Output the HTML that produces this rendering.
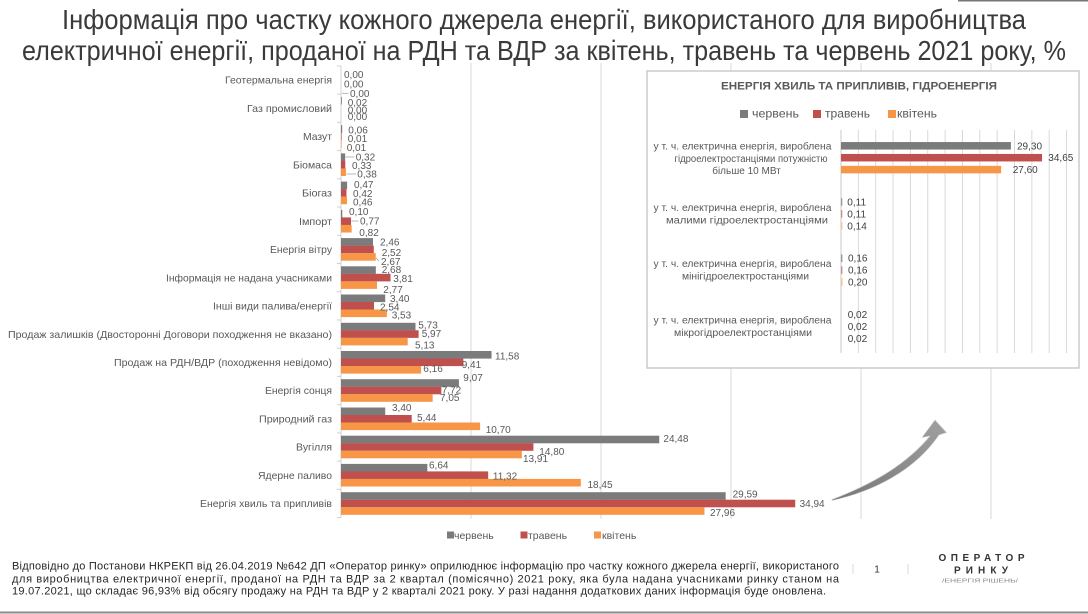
<!DOCTYPE html>
<html><head><meta charset="utf-8">
<style>
html,body{margin:0;padding:0;background:#fff;}
svg{display:block;}
text{font-family:"Liberation Sans","DejaVu Sans",sans-serif;}
.t{font-family:"Liberation Sans Narrow","Liberation Sans",sans-serif;font-size:28px;fill:#3a3a3a;}
.cat{font-size:10.5px;fill:#595959;text-anchor:end;}
.v{font-size:10px;fill:#595959;}
.iv{font-size:10px;fill:#404040;}
.il{font-size:10px;fill:#595959;text-anchor:middle;}
.ft{font-size:11px;fill:#262626;}
</style></head>
<body>
<svg width="1088" height="614" viewBox="0 0 1088 614" xmlns="http://www.w3.org/2000/svg">
<rect width="1088" height="614" fill="#fff"/>
<line x1="958" y1="0.7" x2="1088" y2="0.7" stroke="#777" stroke-width="1.5"/>

<!-- Title -->
<text class="t" x="62" y="29" textLength="964" lengthAdjust="spacingAndGlyphs">Інформація про частку кожного джерела енергії, використаного для виробництва</text>
<text class="t" x="22" y="60" textLength="1044" lengthAdjust="spacingAndGlyphs">електричної енергії, проданої на РДН та ВДР за квітень, травень та червень 2021 року, %</text>

<!-- main gridlines -->
<g stroke="#d9d9d9" stroke-width="1">
<line x1="471" y1="63" x2="471" y2="519"/>
<line x1="601" y1="63" x2="601" y2="519"/>
<line x1="731" y1="63" x2="731" y2="519"/>
<line x1="861" y1="63" x2="861" y2="519"/>
<line x1="991" y1="63" x2="991" y2="519"/>
</g>
<!-- axis -->
<g stroke="#d0d0d0" stroke-width="1">
<line x1="341" y1="66" x2="341" y2="518"/>
<line x1="337" y1="66" x2="341" y2="66"/>
<line x1="337" y1="94.1" x2="341" y2="94.1"/>
<line x1="337" y1="122.4" x2="341" y2="122.4"/>
<line x1="337" y1="150.6" x2="341" y2="150.6"/>
<line x1="337" y1="178.8" x2="341" y2="178.8"/>
<line x1="337" y1="207" x2="341" y2="207"/>
<line x1="337" y1="235.3" x2="341" y2="235.3"/>
<line x1="337" y1="263.5" x2="341" y2="263.5"/>
<line x1="337" y1="291.7" x2="341" y2="291.7"/>
<line x1="337" y1="320" x2="341" y2="320"/>
<line x1="337" y1="348.2" x2="341" y2="348.2"/>
<line x1="337" y1="376.4" x2="341" y2="376.4"/>
<line x1="337" y1="404.7" x2="341" y2="404.7"/>
<line x1="337" y1="432.9" x2="341" y2="432.9"/>
<line x1="337" y1="461.1" x2="341" y2="461.1"/>
<line x1="337" y1="489.4" x2="341" y2="489.4"/>
<line x1="337" y1="517.6" x2="341" y2="517.6"/>
</g>

<!-- categories -->
<text class="cat" x="332" y="83.7" textLength="107" lengthAdjust="spacingAndGlyphs">Геотермальна енергія</text>
<text class="cat" x="332" y="111.9" textLength="85" lengthAdjust="spacingAndGlyphs">Газ промисловий</text>
<text class="cat" x="332" y="140.2" textLength="29" lengthAdjust="spacingAndGlyphs">Мазут</text>
<text class="cat" x="332" y="168.4" textLength="39" lengthAdjust="spacingAndGlyphs">Біомаса</text>
<text class="cat" x="332" y="196.6" textLength="30" lengthAdjust="spacingAndGlyphs">Біогаз</text>
<text class="cat" x="332" y="224.9" textLength="33" lengthAdjust="spacingAndGlyphs">Імпорт</text>
<text class="cat" x="332" y="253.1" textLength="62" lengthAdjust="spacingAndGlyphs">Енергія вітру</text>
<text class="cat" x="332" y="281.3" textLength="166" lengthAdjust="spacingAndGlyphs">Інформація не надана учасниками</text>
<text class="cat" x="332" y="309.5" textLength="119" lengthAdjust="spacingAndGlyphs">Інші види палива/енергії</text>
<text class="cat" x="332" y="337.8" textLength="324" lengthAdjust="spacingAndGlyphs">Продаж залишків (Двосторонні Договори походження не вказано)</text>
<text class="cat" x="332" y="366" textLength="218" lengthAdjust="spacingAndGlyphs">Продаж на РДН/ВДР (походження невідомо)</text>
<text class="cat" x="332" y="394.2" textLength="67" lengthAdjust="spacingAndGlyphs">Енергія сонця</text>
<text class="cat" x="332" y="422.5" textLength="73" lengthAdjust="spacingAndGlyphs">Природний газ</text>
<text class="cat" x="332" y="450.7" textLength="36" lengthAdjust="spacingAndGlyphs">Вугілля</text>
<text class="cat" x="332" y="478.9" textLength="74" lengthAdjust="spacingAndGlyphs">Ядерне паливо</text>
<text class="cat" x="332" y="507.2" textLength="132" lengthAdjust="spacingAndGlyphs">Енергія хвиль та припливів</text>

<!-- bars: grey -->
<g fill="#7b7b7b">
<rect x="341" y="96.9" width="0.8" height="7.6"/>
<rect x="341" y="125.2" width="1.2" height="7.6"/>
<rect x="341" y="153.4" width="4.16" height="7.6"/>
<rect x="341" y="181.6" width="6.11" height="7.6"/>
<rect x="341" y="209.9" width="1.3" height="7.6"/>
<rect x="341" y="238.1" width="31.98" height="7.6"/>
<rect x="341" y="266.3" width="34.84" height="7.6"/>
<rect x="341" y="294.5" width="44.2" height="7.6"/>
<rect x="341" y="322.8" width="74.49" height="7.6"/>
<rect x="341" y="351" width="150.54" height="7.6"/>
<rect x="341" y="379.2" width="117.91" height="7.6"/>
<rect x="341" y="407.5" width="44.2" height="7.6"/>
<rect x="341" y="435.7" width="318.24" height="7.6"/>
<rect x="341" y="463.9" width="86.32" height="7.6"/>
<rect x="341" y="492.2" width="384.67" height="7.6"/>
</g>
<!-- red -->
<g fill="#c0504d">
<rect x="341" y="132.7" width="0.6" height="7.6"/>
<rect x="341" y="160.9" width="4.29" height="7.6"/>
<rect x="341" y="189.1" width="5.46" height="7.6"/>
<rect x="341" y="217.4" width="10.01" height="7.6"/>
<rect x="341" y="245.6" width="32.76" height="7.6"/>
<rect x="341" y="273.8" width="49.53" height="7.6"/>
<rect x="341" y="302" width="33.02" height="7.6"/>
<rect x="341" y="330.3" width="77.61" height="7.6"/>
<rect x="341" y="358.5" width="122.33" height="7.6"/>
<rect x="341" y="386.7" width="100.36" height="7.6"/>
<rect x="341" y="415" width="70.72" height="7.6"/>
<rect x="341" y="443.2" width="192.4" height="7.6"/>
<rect x="341" y="471.4" width="147.16" height="7.6"/>
<rect x="341" y="499.7" width="454.22" height="7.6"/>
</g>
<!-- orange -->
<g fill="#f79646">
<rect x="341" y="140.2" width="0.6" height="7.6"/>
<rect x="341" y="168.4" width="4.94" height="7.6"/>
<rect x="341" y="196.6" width="5.98" height="7.6"/>
<rect x="341" y="224.9" width="10.66" height="7.6"/>
<rect x="341" y="253.1" width="34.71" height="7.6"/>
<rect x="341" y="281.3" width="36.01" height="7.6"/>
<rect x="341" y="309.5" width="45.89" height="7.6"/>
<rect x="341" y="337.8" width="66.69" height="7.6"/>
<rect x="341" y="366" width="80.08" height="7.6"/>
<rect x="341" y="394.2" width="91.65" height="7.6"/>
<rect x="341" y="422.5" width="139.1" height="7.6"/>
<rect x="341" y="450.7" width="180.83" height="7.6"/>
<rect x="341" y="478.9" width="239.85" height="7.6"/>
<rect x="341" y="507.2" width="363.48" height="7.6"/>
</g>

<!-- leader lines -->
<g stroke="#a6a6a6" stroke-width="0.8">
<line x1="342" y1="93.3" x2="348.5" y2="93.3"/>
<line x1="345.5" y1="157" x2="354.5" y2="157"/>
<line x1="346.5" y1="174" x2="356" y2="174"/>
<line x1="351.5" y1="221" x2="358.5" y2="221"/>
<line x1="376" y1="258" x2="379" y2="261"/>
</g>

<!-- value labels -->
<g class="v">
<text x="344" y="78.2">0,00</text>
<text x="344" y="87.5">0,00</text>
<text x="350" y="96.8">0,00</text>
<text x="347.7" y="105.8">0,02</text>
<text x="347.7" y="113.5">0,00</text>
<text x="347.7" y="120.2">0,00</text>
<text x="348.3" y="133.5">0,06</text>
<text x="347.7" y="141.8">0,01</text>
<text x="346.7" y="151.2">0,01</text>
<text x="355.7" y="160.5">0,32</text>
<text x="352" y="169.2">0,33</text>
<text x="357.3" y="177.5">0,38</text>
<text x="354" y="187.8">0,47</text>
<text x="353" y="197.2">0,42</text>
<text x="353" y="205.5">0,46</text>
<text x="349" y="215.2">0,10</text>
<text x="360" y="224.5">0,77</text>
<text x="359.3" y="236.2">0,82</text>
<text x="380" y="245.5">2,46</text>
<text x="381.7" y="255.8">2,52</text>
<text x="381" y="265.2">2,67</text>
<text x="381.7" y="272.8">2,68</text>
<text x="393.3" y="281.8">3,81</text>
<text x="383.3" y="292.8">2,77</text>
<text x="390" y="302.2">3,40</text>
<text x="380" y="310.5">2,54</text>
<text x="391.7" y="318.5">3,53</text>
<text x="418.3" y="328.5">5,73</text>
<text x="421.7" y="336.8">5,97</text>
<text x="415" y="348.5">5,13</text>
<text x="495" y="359.5">11,58</text>
<text x="461.7" y="367.8">9,41</text>
<text x="423.3" y="371.8">6,16</text>
<text x="463.3" y="381.2">9,07</text>
<text x="441.7" y="393.5">7,72</text>
<text x="440" y="401.2">7,05</text>
<text x="392" y="410.8">3,40</text>
<text x="417" y="420.8">5,44</text>
<text x="485.7" y="432.8">10,70</text>
<text x="663.4" y="441.8">24,48</text>
<text x="539.3" y="455.2">14,80</text>
<text x="523" y="461.8">13,91</text>
<text x="429" y="468.5">6,64</text>
<text x="492.9" y="479.5">11,32</text>
<text x="587.5" y="487.8">18,45</text>
<text x="732.6" y="497.5">29,59</text>
<text x="799.6" y="506.8">34,94</text>
<text x="710" y="516.2">27,96</text>
</g>

<!-- main legend -->
<rect x="447" y="531.5" width="7" height="7" fill="#7b7b7b"/>
<text x="454" y="539" style="font-size:10.5px;fill:#595959">червень</text>
<rect x="520.5" y="531.5" width="7" height="7" fill="#c0504d"/>
<text x="528" y="539" style="font-size:10.5px;fill:#595959">травень</text>
<rect x="594" y="531.5" width="7" height="7" fill="#f79646"/>
<text x="602" y="539" style="font-size:10.5px;fill:#595959">квітень</text>

<!-- arrow -->
<defs>
<linearGradient id="ag" x1="0" y1="1" x2="1" y2="0">
<stop offset="0" stop-color="#777"/>
<stop offset="1" stop-color="#a0a0a0"/>
</linearGradient>
</defs>
<path d="M832,500.5 C875,491 915,470 939,435 L946.5,432.5 L935,420 L922,437.5 L930,436 C905,466 870,485 832,499.5 Z" fill="url(#ag)" stroke="#cfcfcf" stroke-width="0.6"/>

<!-- inset -->
<rect x="647" y="71" width="432" height="297" fill="#fff" stroke="#c4c4c4" stroke-width="1.3"/>
<text x="859" y="89.5" textLength="276" lengthAdjust="spacingAndGlyphs" style="font-size:11px;font-weight:bold;fill:#595959;text-anchor:middle">ЕНЕРГІЯ ХВИЛЬ ТА ПРИПЛИВІВ, ГІДРОЕНЕРГІЯ</text>
<rect x="740" y="110" width="8" height="8" fill="#7b7b7b"/>
<text x="752" y="117.5" textLength="47" lengthAdjust="spacingAndGlyphs" style="font-size:12px;fill:#595959">червень</text>
<rect x="813" y="110" width="8" height="8" fill="#c0504d"/>
<text x="825" y="117.5" textLength="45" lengthAdjust="spacingAndGlyphs" style="font-size:12px;fill:#595959">травень</text>
<rect x="888" y="110" width="8" height="8" fill="#f79646"/>
<text x="897" y="117.5" textLength="40" lengthAdjust="spacingAndGlyphs" style="font-size:12px;fill:#595959">квітень</text>

<g stroke="#d9d9d9" stroke-width="1">
<line x1="858.35" y1="130" x2="858.35" y2="353"/>
<line x1="875.7" y1="130" x2="875.7" y2="353"/>
<line x1="893.05" y1="130" x2="893.05" y2="353"/>
<line x1="910.4" y1="130" x2="910.4" y2="353"/>
<line x1="927.75" y1="130" x2="927.75" y2="353"/>
<line x1="945.1" y1="130" x2="945.1" y2="353"/>
<line x1="962.45" y1="130" x2="962.45" y2="353"/>
<line x1="979.8" y1="130" x2="979.8" y2="353"/>
<line x1="997.15" y1="130" x2="997.15" y2="353"/>
<line x1="1014.5" y1="130" x2="1014.5" y2="353"/>
<line x1="1031.85" y1="130" x2="1031.85" y2="353"/>
<line x1="1049.2" y1="130" x2="1049.2" y2="353"/>
<line x1="1066.55" y1="130" x2="1066.55" y2="353"/>
</g>
<line x1="841" y1="130" x2="841" y2="353" stroke="#c8c8c8" stroke-width="1"/>

<rect x="841" y="142.05" width="169.9" height="7.5" fill="#7b7b7b"/>
<rect x="841" y="153.95" width="201" height="7.5" fill="#c0504d"/>
<rect x="841" y="165.85" width="160.1" height="7.5" fill="#f79646"/>
<rect x="841" y="198.25" width="1.3" height="7.5" fill="#9a9a9a"/>
<rect x="841" y="210.15" width="1.3" height="7.5" fill="#d08a88"/>
<rect x="841" y="222.05" width="1.4" height="7.5" fill="#f8c49c"/>
<rect x="841" y="254.45" width="1.4" height="7.5" fill="#9a9a9a"/>
<rect x="841" y="266.35" width="1.4" height="7.5" fill="#d08a88"/>
<rect x="841" y="278.25" width="1.6" height="7.5" fill="#f8c49c"/>

<g class="iv">
<text x="1017" y="149.3">29,30</text>
<text x="1048.3" y="161.2">34,65</text>
<text x="1012.7" y="173.1">27,60</text>
<text x="847.3" y="205.4">0,11</text>
<text x="847.3" y="217.4">0,11</text>
<text x="847.3" y="229.4">0,14</text>
<text x="848" y="261.6">0,16</text>
<text x="848" y="273.6">0,16</text>
<text x="848" y="285.6">0,20</text>
<text x="847.7" y="317.9">0,02</text>
<text x="847.7" y="329.9">0,02</text>
<text x="847.7" y="341.9">0,02</text>
</g>

<g class="il">
<text x="742.5" y="149.5" textLength="178" lengthAdjust="spacingAndGlyphs">у т. ч. електрична енергія, вироблена</text>
<text x="751" y="161.8" textLength="153" lengthAdjust="spacingAndGlyphs">гідроелектростанціями потужністю</text>
<text x="746.5" y="174.1">більше 10 МВт</text>
<text x="742.5" y="211.2" textLength="178" lengthAdjust="spacingAndGlyphs">у т. ч. електрична енергія, вироблена</text>
<text x="747" y="223.5" textLength="162" lengthAdjust="spacingAndGlyphs">малими гідроелектростанціями</text>
<text x="742.5" y="266.8" textLength="178" lengthAdjust="spacingAndGlyphs">у т. ч. електрична енергія, вироблена</text>
<text x="745.5" y="279.5" textLength="127" lengthAdjust="spacingAndGlyphs">мінігідроелектростанціями</text>
<text x="742.5" y="323.5" textLength="178" lengthAdjust="spacingAndGlyphs">у т. ч. електрична енергія, вироблена</text>
<text x="743" y="335.8" textLength="138" lengthAdjust="spacingAndGlyphs">мікрогідроелектростанціями</text>
</g>

<!-- footer text -->
<text class="ft" x="12" y="569.7" textLength="827" lengthAdjust="spacing">Відповідно до Постанови НКРЕКП від 26.04.2019 №642 ДП «Оператор ринку» оприлюднює інформацію про частку кожного джерела енергії, використаного</text>
<text class="ft" x="12" y="582.3" textLength="827" lengthAdjust="spacing">для виробництва електричної енергії, проданої на РДН та ВДР за 2 квартал (помісячно) 2021 року, яка була надана учасниками ринку станом на</text>
<text class="ft" x="12" y="594.7" textLength="814" lengthAdjust="spacing">19.07.2021, що складає 96,93% від обсягу продажу на РДН та ВДР у 2 кварталі 2021 року.  У разі надання додаткових даних інформація буде оновлена.</text>

<!-- page number & logo -->
<line x1="853" y1="564" x2="853" y2="574" stroke="#d8d8d8" stroke-width="1"/>
<line x1="908" y1="564" x2="908" y2="574" stroke="#d8d8d8" stroke-width="1"/>
<text x="877" y="572.5" style="font-size:10px;fill:#333;text-anchor:middle">1</text>
<text x="981.5" y="561" textLength="86" lengthAdjust="spacing" style="font-size:10px;font-weight:bold;fill:#333;text-anchor:middle">ОПЕРАТОР</text>
<text x="981" y="573.5" textLength="54" lengthAdjust="spacing" style="font-size:10px;font-weight:bold;fill:#333;text-anchor:middle">РИНКУ</text>
<text x="980" y="582.5" textLength="76" lengthAdjust="spacingAndGlyphs" style="font-size:5px;fill:#888;text-anchor:middle">/ЕНЕРГІЯ РІШЕНЬ/</text>

<line x1="0" y1="612.5" x2="1088" y2="612.5" stroke="#8a8a8a" stroke-width="2"/>
</svg>
</body></html>
